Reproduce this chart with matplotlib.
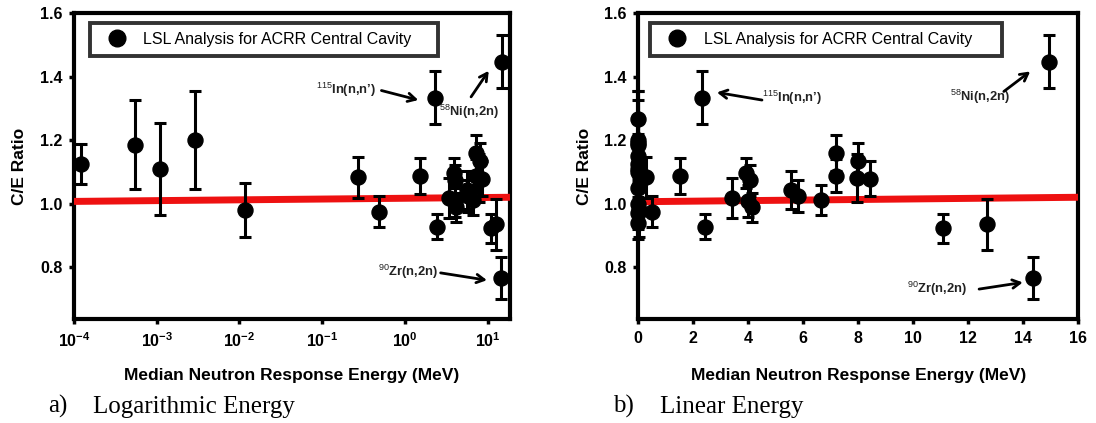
import matplotlib.pyplot as plt
import numpy as np
from matplotlib.lines import Line2D

plt.rcParams["font.family"] = ["Liberation Sans", "DejaVu Sans"]
plt.rcParams["mathtext.fontset"] = "custom"
plt.rcParams["mathtext.rm"] = "Liberation Sans"
plt.rcParams["mathtext.bf"] = "Liberation Sans:bold"
plt.rcParams["mathtext.it"] = "Liberation Sans:italic"

# median neutron response energy (MeV), C/E ratio and 1-sigma uncertainty
energy = [
    2.53e-8, 2.53e-8, 2.53e-8, 2.53e-8, 2.53e-8, 2.53e-8, 2.53e-8, 2.53e-8,
    1.23e-4, 5.5e-4, 1.1e-3, 2.87e-3, 0.0117, 0.27, 0.48, 1.5, 2.33, 2.42,
    3.41, 3.92, 4.08, 3.99, 4.13, 5.55, 5.8, 6.64, 7.18, 7.18, 8.0, 7.95,
    8.43, 11.1, 12.7, 14.37, 14.93,
]
ce_ratio = [
    1.265, 1.19, 1.15, 1.10, 1.05, 1.00, 0.97, 0.94,
    1.125, 1.185, 1.108, 1.200, 0.980, 1.083, 0.975, 1.087, 1.333, 0.928,
    1.018, 1.097, 1.073, 1.008, 0.988, 1.042, 1.025, 1.012, 1.159, 1.088,
    1.135, 1.080, 1.078, 0.922, 0.935, 0.767, 1.447,
]
ce_err = [
    0.09, 0.08, 0.07, 0.05, 0.06, 0.07, 0.05, 0.05,
    0.063, 0.14, 0.145, 0.155, 0.085, 0.065, 0.05, 0.058, 0.083, 0.038,
    0.062, 0.047, 0.05, 0.05, 0.045, 0.06, 0.05, 0.048, 0.057, 0.052,
    0.055, 0.075, 0.055, 0.045, 0.08, 0.066, 0.084,
]

# fitted trend lines (end points) for each panel
fit_log_x = [1e-4, 18.6]
fit_log_y = [1.007, 1.020]
fit_lin_x = [0, 16]
fit_lin_y = [1.006, 1.020]

legend_label = "LSL Analysis for ACRR Central Cavity"

# annotation label, text position, arrow tail, arrow head for each panel
notes_log = [
    ("$^{115}$In(n,n’)", (0.45, 1.358), (0.52, 1.356), (1.45, 1.326), "right"),
    ("$^{58}$Ni(n,2n)", (2.6, 1.288), (6.3, 1.336), (10.3, 1.418), "left"),
    ("$^{90}$Zr(n,2n)", (2.5, 0.784), (2.7, 0.782), (9.8, 0.759), "right"),
]
notes_lin = [
    ("$^{115}$In(n,n’)", (4.5, 1.332), (4.5, 1.326), (2.86, 1.35), "left"),
    ("$^{58}$Ni(n,2n)", (13.5, 1.337), (13.3, 1.353), (14.26, 1.416), "right"),
    ("$^{90}$Zr(n,2n)", (11.95, 0.733), (12.4, 0.731), (13.99, 0.752), "right"),
]

fig = plt.figure(figsize=(10.96, 4.23), dpi=100)
ax_log = fig.add_axes([0.0675, 0.2452, 0.3978, 0.7241])
ax_lin = fig.add_axes([0.5824, 0.2452, 0.4012, 0.7241])


def style_panel(ax, fit_x, fit_y, notes, leg_x, clip):
    ax.plot(fit_x, fit_y, color="#ee1111", lw=5, solid_capstyle="butt", zorder=3)
    bars = ax.errorbar(
        energy, ce_ratio, yerr=ce_err, fmt="o", color="black", ms=10.8,
        elinewidth=2.2, capsize=4.6, capthick=2.2, zorder=4,
    )
    if not clip:
        for art in bars.get_children():
            art.set_clip_on(False)
    ax.set_ylim(0.636, 1.6)
    ax.set_yticks([0.8, 1.0, 1.2, 1.4, 1.6])
    ax.set_yticklabels(["0.8", "1.0", "1.2", "1.4", "1.6"])
    for spine in ax.spines.values():
        spine.set_linewidth(3)
    ax.tick_params(direction="out", length=3.5, width=2.5, labelsize=11.5, pad=5)
    for lab in ax.get_xticklabels() + ax.get_yticklabels():
        lab.set_fontweight("bold")
    ax.set_xlabel("Median Neutron Response Energy (MeV)", fontsize=12.5,
                  fontweight="bold", va="center")
    ax.xaxis.set_label_coords(0.5, -0.182)
    ax.set_ylabel("C/E Ratio", fontsize=12.5, fontweight="bold", labelpad=9)

    handle = Line2D([], [], ls="none", marker="o", color="black", ms=12)
    leg = ax.legend(
        [handle], [legend_label],
        loc="upper left", bbox_to_anchor=(leg_x, 0.846, 0.80, 0.121),
        mode="expand", fontsize=11.5, borderpad=0.55, handlelength=2.3,
        handletextpad=0.5, fancybox=False, borderaxespad=0, numpoints=1,
    )
    leg.get_frame().set_edgecolor("black")
    leg.get_frame().set_linewidth(2.8)

    for label, txt, tail, head, ha in notes:
        ax.text(txt[0], txt[1], label, fontsize=9.3, fontweight="bold",
                ha=ha, va="center", color="#222222", zorder=5)
        ax.annotate(
            "", xy=head, xytext=tail,
            arrowprops=dict(arrowstyle="->,head_length=0.55,head_width=0.3",
                            lw=2, color="black", shrinkA=0, shrinkB=0),
            zorder=5,
        )


style_panel(ax_log, fit_log_x, fit_log_y, notes_log, 0.036, True)
ax_log.set_xscale("log")
ax_log.set_xlim(1e-4, 18.6)
ax_log.set_xticks([1e-4, 1e-3, 1e-2, 1e-1, 1e0, 1e1])
ax_log.set_xticklabels([r"$\mathbf{10^{-4}}$", r"$\mathbf{10^{-3}}$",
                        r"$\mathbf{10^{-2}}$", r"$\mathbf{10^{-1}}$",
                        r"$\mathbf{10^{0}}$", r"$\mathbf{10^{1}}$"])
ax_log.xaxis.set_minor_locator(plt.NullLocator())

style_panel(ax_lin, fit_lin_x, fit_lin_y, notes_lin, 0.0266, False)
ax_lin.set_xlim(0, 16)
ax_lin.set_xticks(np.arange(0, 17, 2))
ax_lin.set_xticklabels([str(v) for v in range(0, 17, 2)], fontweight="bold")

serif = ["Liberation Serif", "DejaVu Serif"]
fig.text(48 / 1096, 1 - 413 / 423, "a)", family=serif, fontsize=18, va="baseline")
fig.text(93 / 1096, 1 - 413 / 423, "Logarithmic Energy", family=serif,
         fontsize=18, va="baseline")
fig.text(613 / 1096, 1 - 413 / 423, "b)", family=serif, fontsize=18, va="baseline")
fig.text(660 / 1096, 1 - 413 / 423, "Linear Energy", family=serif,
         fontsize=18, va="baseline")

fig.savefig("out.png", dpi=100)
